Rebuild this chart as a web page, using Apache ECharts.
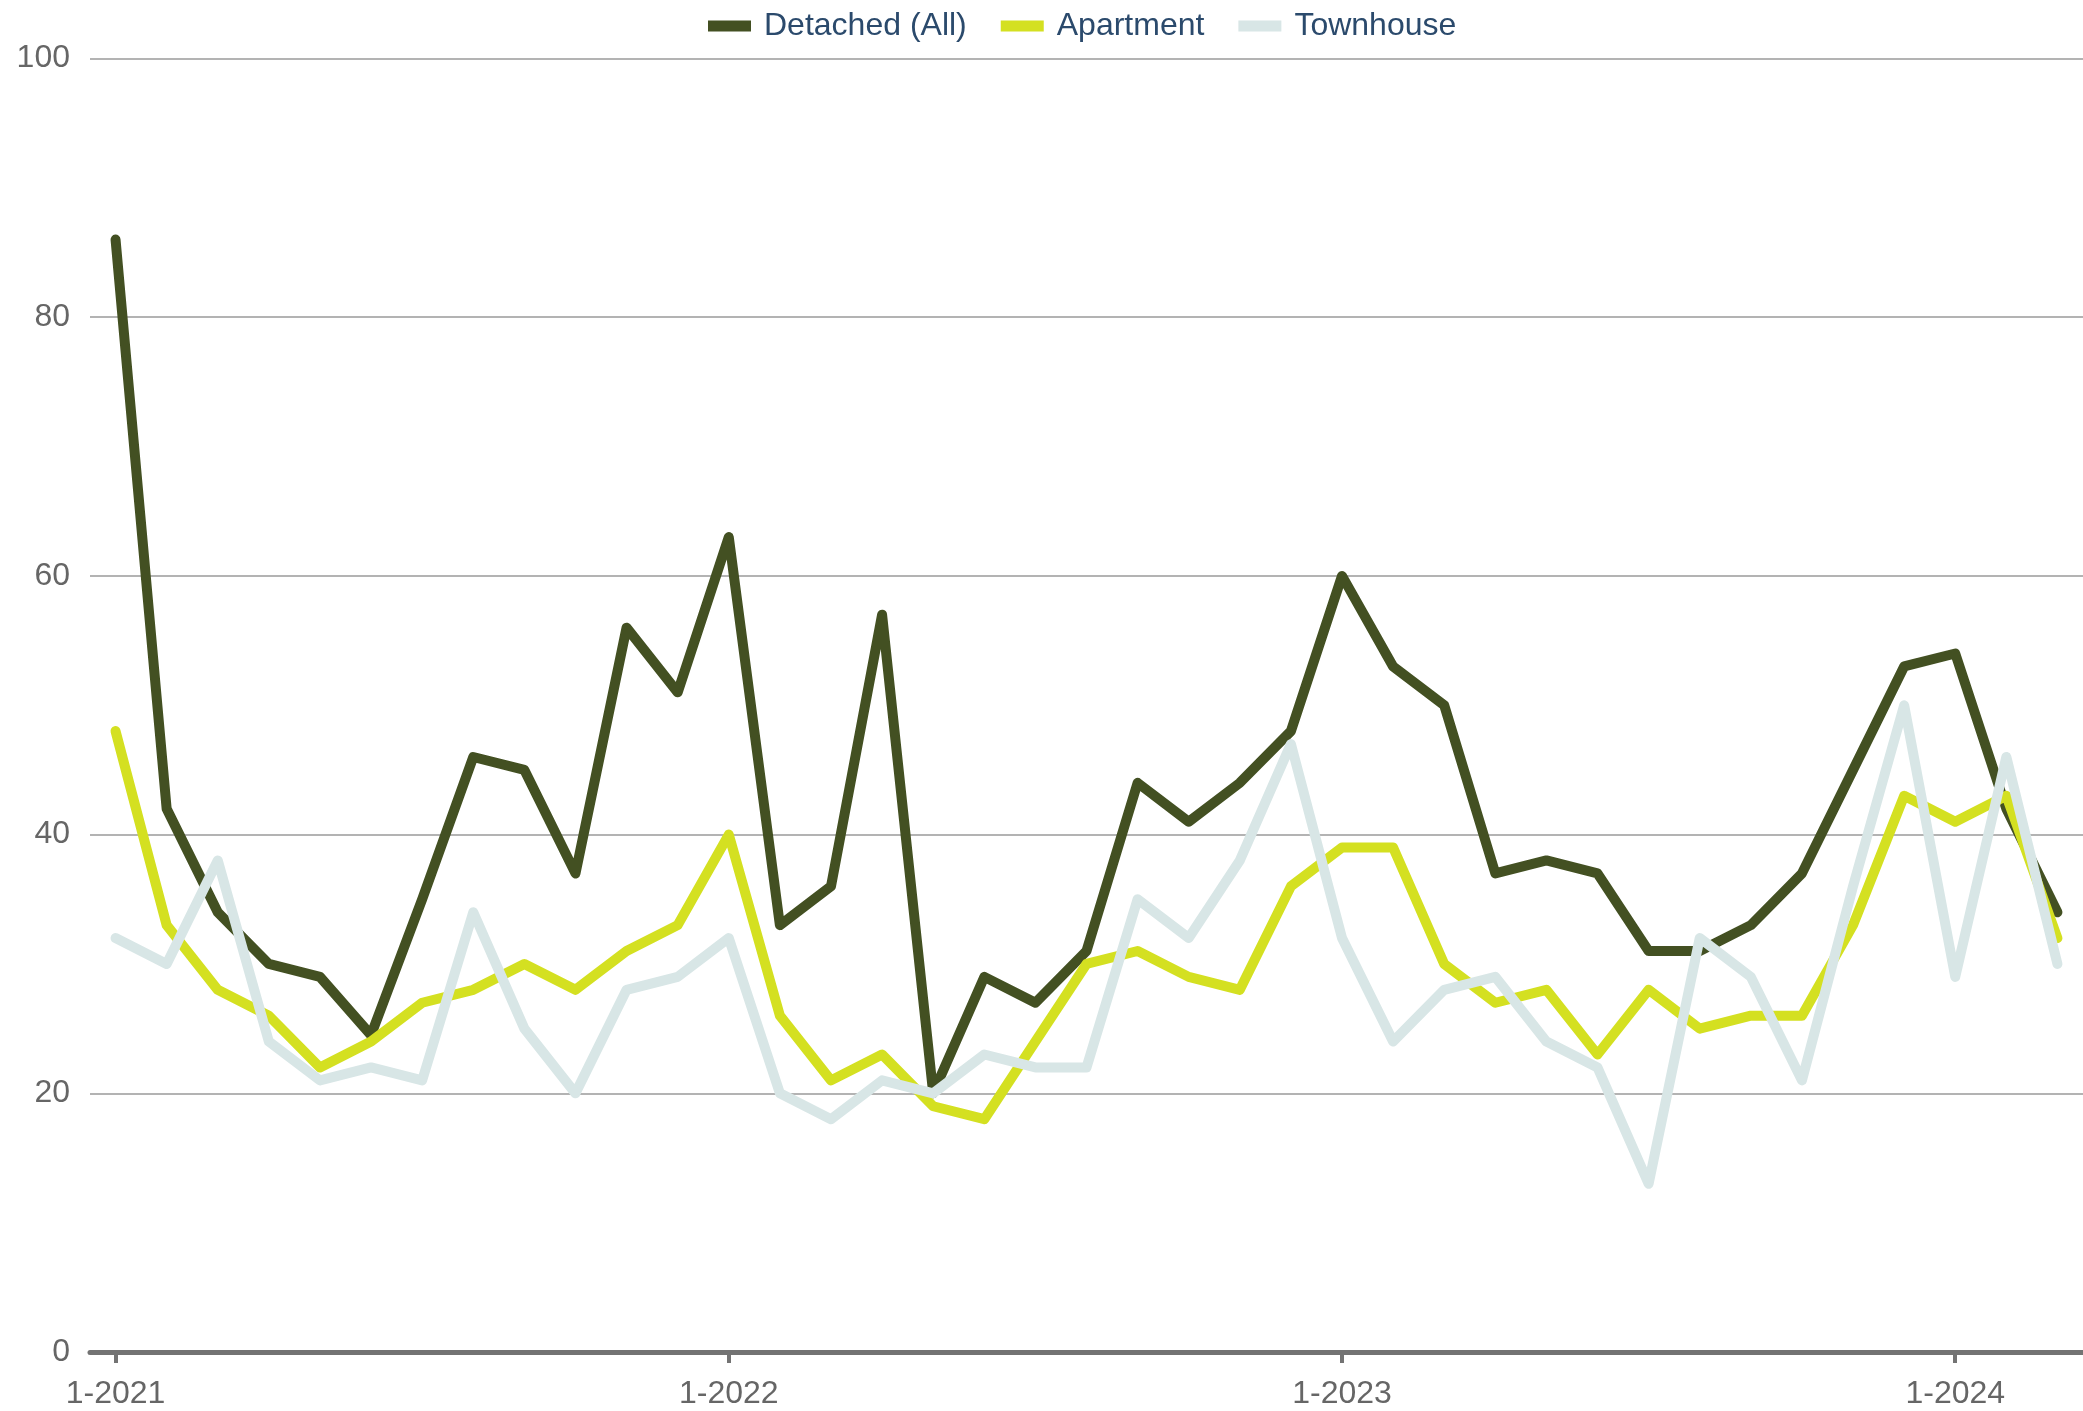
<!DOCTYPE html>
<html>
<head>
<meta charset="utf-8">
<script src="https://cdn.jsdelivr.net/npm/echarts@6/dist/echarts.min.js"></script>
<style>
html,body{margin:0;padding:0;background:#fff;}
#chart{width:2083px;height:1411px;}
</style>
</head>
<body>
<div id="chart"></div>
<script>
const categories = [
  "1-2021","2-2021","3-2021","4-2021","5-2021","6-2021","7-2021","8-2021","9-2021","10-2021","11-2021","12-2021",
  "1-2022","2-2022","3-2022","4-2022","5-2022","6-2022","7-2022","8-2022","9-2022","10-2022","11-2022","12-2022",
  "1-2023","2-2023","3-2023","4-2023","5-2023","6-2023","7-2023","8-2023","9-2023","10-2023","11-2023","12-2023",
  "1-2024","2-2024","3-2024"
];
const detached = [86,42,34,30,29,24.5,35,46,45,37,56,51,63,33,36,57,20,29,27,31,44,41,44,48,60,53,50,37,38,37,31,31,33,37,45,53,54,42,34];
const apartment = [48,33,28,26,22,24,27,28,30,28,31,33,40,26,21,23,19,18,24,30,31,29,28,36,39,39,30,27,28,23,28,25,26,26,33,43,41,43,32];
const townhouse = [32,30,38,24,21,22,21,34,25,20,28,29,32,20,18,21,20,23,22,22,35,32,38,47,32,24,28,29,24,22,13,32,29,21,36,50,29,46,30];
const yTicks = {min:0, max:100, interval:20};

const FONT = '"Liberation Sans", Arial, Helvetica, sans-serif';
const chart = echarts.init(document.getElementById('chart'), null, {renderer:'canvas'});
function lineSeries(name, data, color){
  return {
    name: name, type: 'line', data: data, symbol: 'none', smooth: false,
    lineStyle: {color: color, width: 10, cap: 'round', join: 'round'},
    itemStyle: {color: color}
  };
}
chart.setOption({
  animation: false,
  backgroundColor: '#fff',
  textStyle: {fontFamily: FONT},
  legend: {
    top: 5, left: 703,
    icon: 'rect', itemWidth: 43, itemHeight: 11, itemGap: 34,
    textStyle: {color: '#2b4a6c', fontSize: 32, fontFamily: FONT, padding: [0,0,0,8]},
    data: ['Detached (All)','Apartment','Townhouse']
  },
  grid: {left: 90, right: 0, top: 58.5, bottom: 59, containLabel: false},
  xAxis: {
    type: 'category', data: categories, boundaryGap: true,
    axisLine: {show: true, lineStyle: {color: '#737373', width: 5}},
    axisTick: {show: true, alignWithLabel: true, interval: 11, length: 11, lineStyle: {color: '#737373', width: 4}},
    axisLabel: {interval: 11, color: '#666', fontSize: 32, fontFamily: FONT, margin: 26},
    splitLine: {show: false}
  },
  yAxis: {
    type: 'value', min: yTicks.min, max: yTicks.max, interval: yTicks.interval,
    axisLine: {show: false}, axisTick: {show: false},
    axisLabel: {color: '#666', fontSize: 32, fontFamily: FONT, margin: 20},
    splitLine: {lineStyle: {color: '#b3b3b3', width: 2}}
  },
  series: [
    lineSeries('Detached (All)', detached, '#435022'),
    lineSeries('Apartment', apartment, '#d4e021'),
    lineSeries('Townhouse', townhouse, '#d8e6e6')
  ]
});
</script>
</body>
</html>
